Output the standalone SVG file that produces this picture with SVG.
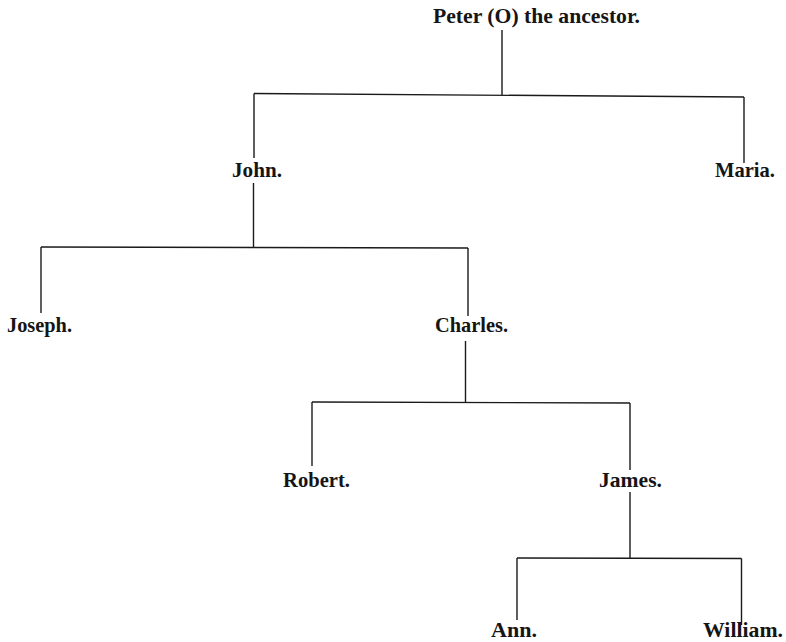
<svg xmlns="http://www.w3.org/2000/svg" width="786" height="642" viewBox="0 0 786 642">
<style>
.n{font-family:"Liberation Serif","Times New Roman",serif;font-size:21px;font-weight:bold;fill:#151515}
.c line{stroke:#1a1a1a;stroke-width:1.4;fill:none}
</style>
<rect width="786" height="642" fill="#fff"/>
<g class="c" id="connectors">
<line x1="502" y1="30" x2="502" y2="95"/>
<line x1="254" y1="93.5" x2="744" y2="97"/>
<line x1="254" y1="93.5" x2="254" y2="158"/>
<line x1="744" y1="97" x2="744" y2="163"/>
<line x1="253.5" y1="183" x2="253.5" y2="247"/>
<line x1="41" y1="247" x2="468" y2="248"/>
<line x1="41" y1="247" x2="41" y2="313"/>
<line x1="468" y1="248" x2="468" y2="316"/>
<line x1="465.5" y1="341" x2="465.5" y2="402.5"/>
<line x1="312" y1="402" x2="630" y2="403"/>
<line x1="312" y1="402" x2="312" y2="466"/>
<line x1="630" y1="403" x2="630" y2="470"/>
<line x1="630" y1="492" x2="630" y2="558"/>
<line x1="517" y1="558" x2="741.5" y2="558.5"/>
<line x1="517" y1="558" x2="517" y2="620"/>
<line x1="741.5" y1="558.5" x2="741.5" y2="625"/>
</g>
<g id="peter"><text class="n" x="433" y="22.5" textLength="207" lengthAdjust="spacingAndGlyphs">Peter (O) the ancestor.</text></g>
<g id="john"><text class="n" x="232" y="177" textLength="50" lengthAdjust="spacingAndGlyphs">John.</text></g>
<g id="maria"><text class="n" x="715" y="177" textLength="60" lengthAdjust="spacingAndGlyphs">Maria.</text></g>
<g id="joseph"><text class="n" x="7" y="331.5" textLength="65" lengthAdjust="spacingAndGlyphs">Joseph.</text></g>
<g id="charles"><text class="n" x="435" y="331.5" textLength="73" lengthAdjust="spacingAndGlyphs">Charles.</text></g>
<g id="robert"><text class="n" x="283" y="486.5" textLength="67" lengthAdjust="spacingAndGlyphs">Robert.</text></g>
<g id="james"><text class="n" x="599" y="486.5" textLength="63" lengthAdjust="spacingAndGlyphs">James.</text></g>
<g id="ann"><text class="n" x="491" y="637" textLength="46" lengthAdjust="spacingAndGlyphs">Ann.</text></g>
<g id="william"><text class="n" x="703" y="637" textLength="80" lengthAdjust="spacingAndGlyphs">William.</text></g>
</svg>
